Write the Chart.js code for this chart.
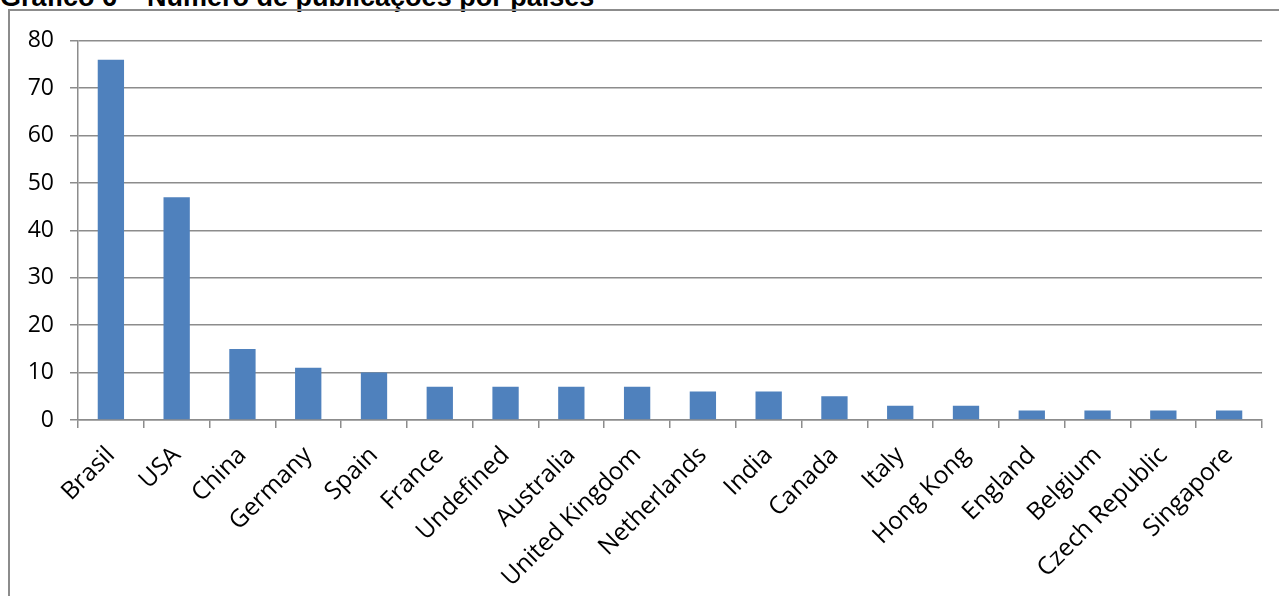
<!DOCTYPE html>
<html>
<head>
<meta charset="utf-8">
<script src="https://cdn.jsdelivr.net/npm/chart.js@4.4.0/dist/chart.umd.min.js"></script>
<style>
  html, body { margin: 0; padding: 0; background: #fff; overflow: hidden; }
  body { width: 1279px; height: 596px; position: relative; }
  #title {
    position: absolute; left: 0; top: -16px;
    font: bold 27px "Liberation Sans", Arial, sans-serif; line-height: 27px;
    color: #000; white-space: nowrap;
  }
  #box {
    position: absolute; left: 8px; top: 9px; width: 1275px; height: 600px;
    border-left: 2px solid #8c8c8c; border-top: 2px solid #8c8c8c;
  }
  #wrap { position: absolute; left: 10px; top: 11px; width: 1269px; height: 585px; }
</style>
</head>
<body>
<div id="title">Gráfico 6 – Número de publicações por países</div>
<div id="box"></div>
<div id="wrap"><canvas id="mycanvas"></canvas></div>
<script>
const countries = ['Brasil', 'USA', 'China', 'Germany', 'Spain', 'France', 'Undefined', 'Australia',
  'United Kingdom', 'Netherlands', 'India', 'Canada', 'Italy', 'Hong Kong', 'England', 'Belgium',
  'Czech Republic', 'Singapore'];
const publications = [76, 47, 15, 11, 10, 7, 7, 7, 7, 6, 6, 5, 3, 3, 2, 2, 2, 2];
const yTicks = [0, 10, 20, 30, 40, 50, 60, 70, 80];

const axisColor = '#8c8c8c';

var ctx = document.getElementById('mycanvas');
var barGraph = new Chart(ctx, {
  type: 'bar',
  data: {
    labels: countries,
    datasets: [{
      label: 'Publicações',
      data: publications,
      backgroundColor: '#4f81bd',
      borderWidth: 0,
      categoryPercentage: 1,
      barPercentage: 0.4
    }]
  },
  options: {
    responsive: true,
    maintainAspectRatio: false,
    animation: false,
    layout: { padding: { top: 16, right: 17, left: 0, bottom: 0 } },
    plugins: { legend: { display: false }, tooltip: { enabled: false } },
    scales: {
      x: {
        grid: { drawOnChartArea: false, drawTicks: true, tickLength: 8, color: axisColor, lineWidth: 1.5, offset: true },
        border: { color: axisColor, width: 1.5 },
        ticks: {
          minRotation: 45, maxRotation: 45, autoSkip: false, padding: 13,
          color: '#000', font: { family: 'Open Sans', size: 24.5 }
        },
        afterFit: function(scale) { scale.height = 176; }
      },
      y: {
        min: 0, max: 80,
        grid: { color: axisColor, lineWidth: 1.5, tickLength: 8 },
        border: { color: axisColor, width: 1.5 },
        afterBuildTicks: function(scale) { scale.ticks = yTicks.map(v => ({ value: v })); },
        ticks: { padding: 16, color: '#000', font: { family: 'Open Sans', size: 23 } },
        afterFit: function(scale) { scale.width = 68; }
      }
    }
  }
});
</script>
</body>
</html>
